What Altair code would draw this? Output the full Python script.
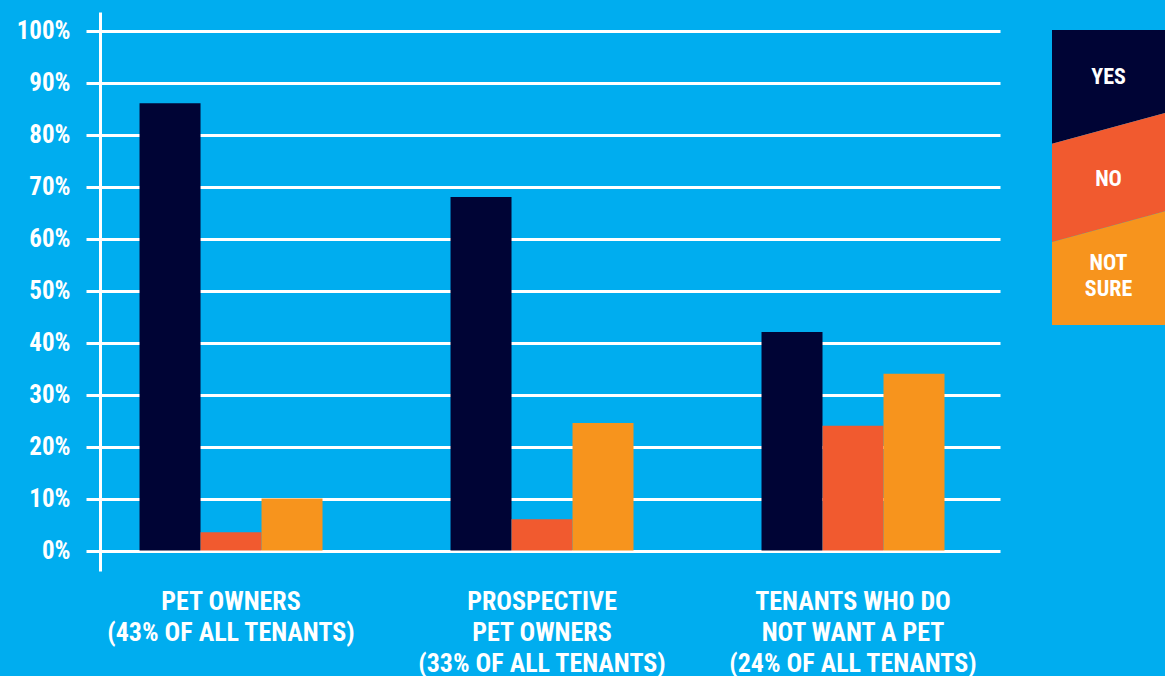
import altair as alt
import pandas as pd

# ---- data ----
groups = [
    "PET OWNERS|(43% OF ALL TENANTS)",
    "PROSPECTIVE|PET OWNERS|(33% OF ALL TENANTS)",
    "TENANTS WHO DO|NOT WANT A PET|(24% OF ALL TENANTS)",
]
answers = ["YES", "NO", "NOT SURE"]
yes_vals = [86, 68, 42]
no_vals = [3.5, 6, 24]
notsure_vals = [10, 24.5, 34]
y_ticks = [0, 10, 20, 30, 40, 50, 60, 70, 80, 90, 100]

colors = ["#000435", "#F15A2F", "#F7941D"]
bg = "#00ADEF"
font = "Liberation Sans Narrow, Roboto Condensed, Roboto, sans-serif"

# legend band boundaries (fraction of legend height), top to bottom
legend_left = [1.0, 0.614, 0.281, 0.0]
legend_right = [1.0, 0.719, 0.386, 0.0]
legend_label_y = [0.841, 0.495, 0.210]
legend_labels = ["YES", "NO", "NOT|SURE"]

rows = []
for g, a, b, c in zip(groups, yes_vals, no_vals, notsure_vals):
    for ans, v in zip(answers, [a, b, c]):
        rows.append({"group": g, "answer": ans, "value": v, "base": 0})
df = pd.DataFrame(rows)

color_scale = alt.Scale(domain=answers, range=colors)

main = alt.Chart(df).mark_bar().encode(
    x=alt.X("group:N", sort=groups,
            scale=alt.Scale(paddingInner=0.4116, paddingOuter=0.1528, align=0.416),
            axis=alt.Axis(title=None, labelAngle=0, ticks=False, domain=False, grid=False,
                          labelExpr="split(datum.label, '|')",
                          labelFont=font, labelFontSize=26, labelFontWeight="bold",
                          labelColor="white", labelLineHeight=31, labelPadding=17,
                          labelBaseline="top", labelLimit=400)),
    xOffset=alt.XOffset("answer:N", sort=answers,
                        scale=alt.Scale(paddingInner=0, paddingOuter=0)),
    y=alt.Y("value:Q",
            scale=alt.Scale(domain=[-3.94, 103.56], nice=False, zero=False),
            axis=alt.Axis(title=None, values=y_ticks, format=".0f",
                          labelExpr="datum.value + '%'",
                          labelFont=font, labelFontSize=25, labelFontWeight="bold",
                          labelColor="white", labelPadding=16,
                          tickColor="white", tickSize=14, tickWidth=3,
                          domainColor="white", domainWidth=3,
                          grid=True, gridColor="white", gridWidth=3,
                          minExtent=100, maxExtent=100)),
    y2="base:Q",
    color=alt.Color("answer:N", scale=color_scale, legend=None),
).properties(width=900, height=559)

# legend shapes
lrows = []
for i, ans in enumerate(answers):
    lrows.append({"answer": ans, "x": 0, "top": legend_left[i], "bottom": legend_left[i + 1]})
    lrows.append({"answer": ans, "x": 1, "top": legend_right[i], "bottom": legend_right[i + 1]})
ldf = pd.DataFrame(lrows)

lx = alt.Scale(domain=[0, 1], nice=False, zero=False)
ly = alt.Scale(domain=[0, 1.061], nice=False, zero=False)

legend_area = alt.Chart(ldf).mark_area(interpolate="linear").encode(
    x=alt.X("x:Q", scale=lx, axis=None),
    y=alt.Y("top:Q", scale=ly, axis=None),
    y2="bottom:Q",
    color=alt.Color("answer:N", scale=color_scale, legend=None),
    detail="answer:N",
)

tdf = pd.DataFrame({"label": legend_labels, "y": legend_label_y, "x": [0.5] * 3})
legend_text = alt.Chart(tdf).mark_text(
    font=font, fontSize=22, fontWeight="bold", color="white",
    lineBreak="|", lineHeight=26, align="center", baseline="middle"
).encode(
    x=alt.X("x:Q", scale=lx, axis=None),
    y=alt.Y("y:Q", scale=ly, axis=None),
    text="label:N",
)

legend = alt.layer(legend_area, legend_text).properties(width=113, height=313)

chart = alt.hconcat(main, legend, spacing=52).properties(
    padding={"left": 0, "top": 12, "right": 0, "bottom": 0},
    background=bg,
).configure_view(stroke=None, fill=bg)

chart.save("out.html", embed_options={"renderer": "svg", "actions": False})
